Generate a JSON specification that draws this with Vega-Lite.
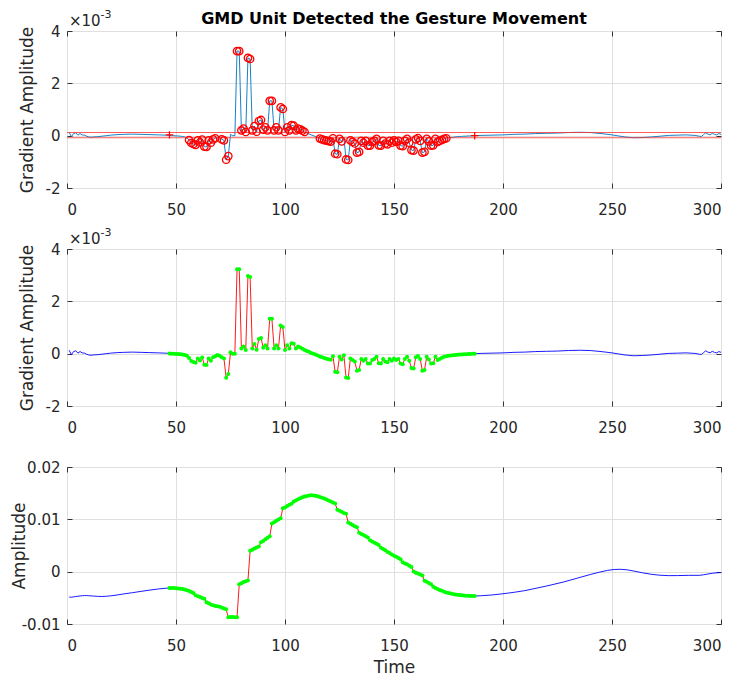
{
  "$schema": "https://vega.github.io/schema/vega-lite/v6.json",
  "background": "white",
  "padding": {"left": 9, "top": 8, "right": 0, "bottom": 0},
  "bounds": "flush",
  "spacing": 61,
  "config": {
    "font": "DejaVu Sans",
    "view": {"stroke": "#555555", "strokeWidth": 1},
    "axis": {
      "labelFont": "DejaVu Sans", "labelFontSize": 15, "labelColor": "#262626",
      "titleFont": "DejaVu Sans", "titleFontSize": 17, "titleFontWeight": "normal", "titleColor": "#262626",
      "gridColor": "#DFDFDF", "gridWidth": 1, "domain": false,
      "tickColor": "#333333", "tickSize": -5, "tickWidth": 1, "minExtent": 0
    },
    "axisX": {"labelPadding": 19},
    "axisY": {"labelPadding": 12}
  },
  "datasets": {
    "thr": [{"th": 0.12}, {"th": -0.08}],
    "bnd": [{"t": 47, "g": 0.03}, {"t": 187, "g": 0.0}],
    "ttl": [{"text": "GMD Unit Detected the Gesture Movement"}],
    "exp": [{"base": "×10", "pow": "-3"}],
    "grad": [
      {"t":1,"g":0.13,"s":"pre"},{"t":2,"g":-0.04,"s":"pre"},{"t":3,"g":0.08,"s":"pre"},{"t":4,"g":0.11,"s":"pre"},{"t":5,"g":0.02,"s":"pre"},{"t":6,"g":0.08,"s":"pre"},{"t":7,"g":0.03,"s":"pre"},{"t":8,"g":0.02,"s":"pre"},{"t":9,"g":-0.02,"s":"pre"},{"t":10,"g":-0.05,"s":"pre"},{"t":11,"g":-0.06,"s":"pre"},{"t":12,"g":-0.05,"s":"pre"},{"t":14,"g":-0.04,"s":"pre"},{"t":16,"g":-0.02,"s":"pre"},{"t":18,"g":0.0,"s":"pre"},{"t":20,"g":0.02,"s":"pre"},{"t":23,"g":0.04,"s":"pre"},{"t":26,"g":0.05,"s":"pre"},{"t":30,"g":0.06,"s":"pre"},{"t":34,"g":0.05,"s":"pre"},{"t":38,"g":0.04,"s":"pre"},{"t":42,"g":0.03,"s":"pre"},{"t":45,"g":0.02,"s":"pre"},{"t":47,"g":0.01,"s":"pre"},
      {"t":47,"g":0.01,"s":"in"},{"t":48,"g":0.0,"s":"in"},{"t":49,"g":0.0,"s":"in"},{"t":50,"g":-0.01,"s":"in"},{"t":51,"g":-0.01,"s":"in"},{"t":52,"g":-0.02,"s":"in"},{"t":53,"g":-0.03,"s":"in"},{"t":54,"g":-0.05,"s":"in"},{"t":55,"g":-0.08,"s":"in"},{"t":56,"g":-0.17,"s":"in"},
      {"t":57,"g":-0.28,"s":"in"},{"t":58,"g":-0.32,"s":"in"},{"t":59,"g":-0.35,"s":"in"},{"t":60,"g":-0.18,"s":"in"},{"t":61,"g":-0.26,"s":"in"},{"t":62,"g":-0.15,"s":"in"},{"t":63,"g":-0.42,"s":"in"},{"t":64,"g":-0.43,"s":"in"},{"t":65,"g":-0.18,"s":"in"},{"t":66,"g":-0.27,"s":"in"},
      {"t":67,"g":-0.14,"s":"in"},{"t":68,"g":-0.10,"s":"in"},{"t":69,"g":-0.05,"s":"in"},{"t":70,"g":-0.08,"s":"in"},{"t":71,"g":-0.14,"s":"in"},{"t":72,"g":-0.18,"s":"in"},{"t":73,"g":-0.92,"s":"in"},{"t":74,"g":-0.78,"s":"in"},{"t":75,"g":0.05,"s":"in"},{"t":76,"g":0.0,"s":"in"},
      {"t":77,"g":0.0,"s":"in"},{"t":78,"g":3.23,"s":"in"},{"t":79,"g":3.23,"s":"in"},{"t":80,"g":0.20,"s":"in"},{"t":81,"g":0.27,"s":"in"},{"t":82,"g":0.14,"s":"in"},{"t":83,"g":2.97,"s":"in"},{"t":84,"g":2.93,"s":"in"},{"t":85,"g":0.20,"s":"in"},{"t":86,"g":0.37,"s":"in"},
      {"t":87,"g":0.15,"s":"in"},{"t":88,"g":0.56,"s":"in"},{"t":89,"g":0.60,"s":"in"},{"t":90,"g":0.23,"s":"in"},{"t":91,"g":0.32,"s":"in"},{"t":92,"g":0.20,"s":"in"},{"t":93,"g":1.33,"s":"in"},{"t":94,"g":1.33,"s":"in"},{"t":95,"g":0.20,"s":"in"},{"t":96,"g":0.32,"s":"in"},
      {"t":97,"g":0.20,"s":"in"},{"t":98,"g":1.08,"s":"in"},{"t":99,"g":1.02,"s":"in"},{"t":100,"g":0.14,"s":"in"},{"t":101,"g":0.32,"s":"in"},{"t":102,"g":0.20,"s":"in"},{"t":103,"g":0.40,"s":"in"},{"t":104,"g":0.38,"s":"in"},{"t":105,"g":0.20,"s":"in"},{"t":106,"g":0.27,"s":"in"},
      {"t":107,"g":0.24,"s":"in"},{"t":108,"g":0.19,"s":"in"},{"t":109,"g":0.14,"s":"in"},{"t":110,"g":0.10,"s":"in"},{"t":111,"g":0.07,"s":"in"},{"t":112,"g":0.03,"s":"in"},{"t":113,"g":0.0,"s":"in"},{"t":114,"g":-0.03,"s":"in"},{"t":115,"g":-0.07,"s":"in"},{"t":116,"g":-0.11,"s":"in"},
      {"t":117,"g":-0.14,"s":"in"},{"t":118,"g":-0.17,"s":"in"},{"t":119,"g":-0.19,"s":"in"},{"t":120,"g":-0.21,"s":"in"},{"t":121,"g":-0.23,"s":"in"},{"t":122,"g":-0.10,"s":"in"},{"t":123,"g":-0.69,"s":"in"},{"t":124,"g":-0.71,"s":"in"},{"t":125,"g":-0.12,"s":"in"},{"t":126,"g":-0.22,"s":"in"},
      {"t":127,"g":-0.06,"s":"in"},{"t":128,"g":-0.91,"s":"in"},{"t":129,"g":-0.93,"s":"in"},{"t":130,"g":-0.18,"s":"in"},{"t":131,"g":-0.24,"s":"in"},{"t":132,"g":-0.30,"s":"in"},{"t":133,"g":-0.65,"s":"in"},{"t":134,"g":-0.62,"s":"in"},{"t":135,"g":-0.20,"s":"in"},{"t":136,"g":-0.27,"s":"in"},
      {"t":137,"g":-0.20,"s":"in"},{"t":138,"g":-0.38,"s":"in"},{"t":139,"g":-0.38,"s":"in"},{"t":140,"g":-0.24,"s":"in"},{"t":141,"g":-0.20,"s":"in"},{"t":142,"g":-0.12,"s":"in"},{"t":143,"g":-0.37,"s":"in"},{"t":144,"g":-0.38,"s":"in"},{"t":145,"g":-0.20,"s":"in"},{"t":146,"g":-0.30,"s":"in"},
      {"t":147,"g":-0.33,"s":"in"},{"t":148,"g":-0.20,"s":"in"},{"t":149,"g":-0.27,"s":"in"},{"t":150,"g":-0.18,"s":"in"},{"t":151,"g":-0.24,"s":"in"},{"t":152,"g":-0.20,"s":"in"},{"t":153,"g":-0.38,"s":"in"},{"t":154,"g":-0.40,"s":"in"},{"t":155,"g":-0.20,"s":"in"},{"t":156,"g":-0.12,"s":"in"},
      {"t":157,"g":-0.27,"s":"in"},{"t":158,"g":-0.55,"s":"in"},{"t":159,"g":-0.57,"s":"in"},{"t":160,"g":-0.14,"s":"in"},{"t":161,"g":-0.09,"s":"in"},{"t":162,"g":-0.20,"s":"in"},{"t":163,"g":-0.65,"s":"in"},{"t":164,"g":-0.62,"s":"in"},{"t":165,"g":-0.12,"s":"in"},{"t":166,"g":-0.22,"s":"in"},
      {"t":167,"g":-0.38,"s":"in"},{"t":168,"g":-0.37,"s":"in"},{"t":169,"g":-0.12,"s":"in"},{"t":170,"g":-0.24,"s":"in"},{"t":171,"g":-0.20,"s":"in"},{"t":172,"g":-0.16,"s":"in"},{"t":173,"g":-0.12,"s":"in"},{"t":174,"g":-0.10,"s":"in"},{"t":175,"g":-0.08,"s":"in"},{"t":176,"g":-0.07,"s":"in"},
      {"t":177,"g":-0.06,"s":"in"},{"t":178,"g":-0.05,"s":"in"},{"t":179,"g":-0.04,"s":"in"},{"t":180,"g":-0.03,"s":"in"},{"t":181,"g":-0.03,"s":"in"},{"t":182,"g":-0.02,"s":"in"},{"t":183,"g":-0.02,"s":"in"},{"t":184,"g":-0.01,"s":"in"},{"t":185,"g":-0.01,"s":"in"},{"t":186,"g":0.0,"s":"in"},{"t":187,"g":0.0,"s":"in"},
      {"t":187,"g":0.0,"s":"post"},{"t":190,"g":0.01,"s":"post"},{"t":195,"g":0.02,"s":"post"},{"t":200,"g":0.03,"s":"post"},{"t":205,"g":0.05,"s":"post"},{"t":210,"g":0.06,"s":"post"},{"t":215,"g":0.08,"s":"post"},{"t":220,"g":0.09,"s":"post"},{"t":225,"g":0.10,"s":"post"},{"t":230,"g":0.12,"s":"post"},
      {"t":235,"g":0.13,"s":"post"},{"t":240,"g":0.12,"s":"post"},{"t":245,"g":0.08,"s":"post"},{"t":250,"g":0.03,"s":"post"},{"t":253,"g":-0.01,"s":"post"},{"t":256,"g":-0.05,"s":"post"},{"t":260,"g":-0.08,"s":"post"},{"t":264,"g":-0.07,"s":"post"},{"t":268,"g":-0.05,"s":"post"},{"t":272,"g":-0.02,"s":"post"},
      {"t":276,"g":0.01,"s":"post"},{"t":280,"g":0.02,"s":"post"},{"t":284,"g":0.03,"s":"post"},{"t":288,"g":0.01,"s":"post"},{"t":290,"g":-0.02,"s":"post"},{"t":291,"g":-0.03,"s":"post"},{"t":292,"g":0.04,"s":"post"},{"t":293,"g":0.11,"s":"post"},{"t":294,"g":0.06,"s":"post"},{"t":295,"g":0.03,"s":"post"},
      {"t":296,"g":0.09,"s":"post"},{"t":297,"g":0.05,"s":"post"},{"t":298,"g":0.03,"s":"post"},{"t":299,"g":0.08,"s":"post"},{"t":300,"g":0.05,"s":"post"}
    ],
    "amp": [
      {"t":1,"a":-0.00485,"s":"pre"},{"t":2,"a":-0.00488,"s":"pre"},{"t":3,"a":-0.00482,"s":"pre"},{"t":4,"a":-0.00476,"s":"pre"},{"t":5,"a":-0.00470,"s":"pre"},{"t":6,"a":-0.00464,"s":"pre"},{"t":7,"a":-0.00460,"s":"pre"},{"t":8,"a":-0.00457,"s":"pre"},{"t":9,"a":-0.00456,"s":"pre"},{"t":10,"a":-0.00460,"s":"pre"},
      {"t":12,"a":-0.00466,"s":"pre"},{"t":14,"a":-0.00472,"s":"pre"},{"t":16,"a":-0.00474,"s":"pre"},{"t":18,"a":-0.00470,"s":"pre"},{"t":20,"a":-0.00462,"s":"pre"},{"t":23,"a":-0.00446,"s":"pre"},{"t":26,"a":-0.00425,"s":"pre"},{"t":30,"a":-0.00402,"s":"pre"},{"t":34,"a":-0.00376,"s":"pre"},{"t":38,"a":-0.00352,"s":"pre"},
      {"t":42,"a":-0.00330,"s":"pre"},{"t":45,"a":-0.00318,"s":"pre"},{"t":47,"a":-0.00310,"s":"pre"},
      {"t":47,"a":-0.00310,"s":"in"},{"t":48,"a":-0.00312,"s":"in"},{"t":49,"a":-0.00314,"s":"in"},{"t":50,"a":-0.00317,"s":"in"},{"t":51,"a":-0.00321,"s":"in"},{"t":52,"a":-0.00326,"s":"in"},{"t":53,"a":-0.00333,"s":"in"},{"t":54,"a":-0.00342,"s":"in"},{"t":55,"a":-0.00353,"s":"in"},{"t":56,"a":-0.00368,"s":"in"},
      {"t":57,"a":-0.00388,"s":"in"},{"t":58,"a":-0.00410,"s":"in"},{"t":59,"a":-0.00452,"s":"in"},{"t":60,"a":-0.00468,"s":"in"},{"t":61,"a":-0.00486,"s":"in"},{"t":62,"a":-0.00502,"s":"in"},{"t":63,"a":-0.00518,"s":"in"},{"t":64,"a":-0.00586,"s":"in"},{"t":65,"a":-0.00605,"s":"in"},{"t":66,"a":-0.00626,"s":"in"},
      {"t":67,"a":-0.00642,"s":"in"},{"t":68,"a":-0.00655,"s":"in"},{"t":69,"a":-0.00663,"s":"in"},{"t":70,"a":-0.00672,"s":"in"},{"t":71,"a":-0.00685,"s":"in"},{"t":72,"a":-0.00702,"s":"in"},{"t":73,"a":-0.00720,"s":"in"},{"t":74,"a":-0.00870,"s":"in"},{"t":75,"a":-0.00868,"s":"in"},{"t":76,"a":-0.00868,"s":"in"},
      {"t":77,"a":-0.00869,"s":"in"},{"t":78,"a":-0.00870,"s":"in"},{"t":79,"a":-0.00240,"s":"in"},{"t":80,"a":-0.00222,"s":"in"},{"t":81,"a":-0.00198,"s":"in"},{"t":82,"a":-0.00182,"s":"in"},{"t":83,"a":-0.00170,"s":"in"},{"t":84,"a":0.00400,"s":"in"},{"t":85,"a":0.00418,"s":"in"},{"t":86,"a":0.00445,"s":"in"},
      {"t":87,"a":0.00462,"s":"in"},{"t":88,"a":0.00480,"s":"in"},{"t":89,"a":0.00560,"s":"in"},{"t":90,"a":0.00585,"s":"in"},{"t":91,"a":0.00618,"s":"in"},{"t":92,"a":0.00648,"s":"in"},{"t":93,"a":0.00675,"s":"in"},{"t":94,"a":0.00920,"s":"in"},{"t":95,"a":0.00942,"s":"in"},{"t":96,"a":0.00972,"s":"in"},
      {"t":97,"a":0.00995,"s":"in"},{"t":98,"a":0.01020,"s":"in"},{"t":99,"a":0.01210,"s":"in"},{"t":100,"a":0.01228,"s":"in"},{"t":101,"a":0.01255,"s":"in"},{"t":102,"a":0.01278,"s":"in"},{"t":103,"a":0.01300,"s":"in"},{"t":104,"a":0.01340,"s":"in"},{"t":105,"a":0.01362,"s":"in"},{"t":106,"a":0.01385,"s":"in"},
      {"t":107,"a":0.01405,"s":"in"},{"t":108,"a":0.01422,"s":"in"},{"t":109,"a":0.01436,"s":"in"},{"t":110,"a":0.01448,"s":"in"},{"t":111,"a":0.01455,"s":"in"},{"t":112,"a":0.01458,"s":"in"},{"t":113,"a":0.01456,"s":"in"},{"t":114,"a":0.01450,"s":"in"},{"t":115,"a":0.01440,"s":"in"},{"t":116,"a":0.01428,"s":"in"},
      {"t":117,"a":0.01414,"s":"in"},{"t":118,"a":0.01398,"s":"in"},{"t":119,"a":0.01380,"s":"in"},{"t":120,"a":0.01360,"s":"in"},{"t":121,"a":0.01340,"s":"in"},{"t":122,"a":0.01320,"s":"in"},{"t":123,"a":0.01302,"s":"in"},{"t":124,"a":0.01182,"s":"in"},{"t":125,"a":0.01162,"s":"in"},{"t":126,"a":0.01144,"s":"in"},
      {"t":127,"a":0.01122,"s":"in"},{"t":128,"a":0.01108,"s":"in"},{"t":129,"a":0.00938,"s":"in"},{"t":130,"a":0.00915,"s":"in"},{"t":131,"a":0.00894,"s":"in"},{"t":132,"a":0.00870,"s":"in"},{"t":133,"a":0.00850,"s":"in"},{"t":134,"a":0.00745,"s":"in"},{"t":135,"a":0.00722,"s":"in"},{"t":136,"a":0.00700,"s":"in"},
      {"t":137,"a":0.00675,"s":"in"},{"t":138,"a":0.00652,"s":"in"},{"t":139,"a":0.00598,"s":"in"},{"t":140,"a":0.00575,"s":"in"},{"t":141,"a":0.00552,"s":"in"},{"t":142,"a":0.00532,"s":"in"},{"t":143,"a":0.00510,"s":"in"},{"t":144,"a":0.00455,"s":"in"},{"t":145,"a":0.00433,"s":"in"},{"t":146,"a":0.00408,"s":"in"},
      {"t":147,"a":0.00378,"s":"in"},{"t":148,"a":0.00355,"s":"in"},{"t":149,"a":0.00330,"s":"in"},{"t":150,"a":0.00306,"s":"in"},{"t":151,"a":0.00285,"s":"in"},{"t":152,"a":0.00262,"s":"in"},{"t":153,"a":0.00238,"s":"in"},{"t":154,"a":0.00182,"s":"in"},{"t":155,"a":0.00158,"s":"in"},{"t":156,"a":0.00140,"s":"in"},
      {"t":157,"a":0.00115,"s":"in"},{"t":158,"a":0.00090,"s":"in"},{"t":159,"a":0.00005,"s":"in"},{"t":160,"a":-0.00020,"s":"in"},{"t":161,"a":-0.00035,"s":"in"},{"t":162,"a":-0.00055,"s":"in"},{"t":163,"a":-0.00075,"s":"in"},{"t":164,"a":-0.00175,"s":"in"},{"t":165,"a":-0.00195,"s":"in"},{"t":166,"a":-0.00218,"s":"in"},
      {"t":167,"a":-0.00240,"s":"in"},{"t":168,"a":-0.00290,"s":"in"},{"t":169,"a":-0.00310,"s":"in"},{"t":170,"a":-0.00330,"s":"in"},{"t":171,"a":-0.00350,"s":"in"},{"t":172,"a":-0.00367,"s":"in"},{"t":173,"a":-0.00382,"s":"in"},{"t":174,"a":-0.00396,"s":"in"},{"t":175,"a":-0.00408,"s":"in"},{"t":176,"a":-0.00418,"s":"in"},
      {"t":177,"a":-0.00427,"s":"in"},{"t":178,"a":-0.00435,"s":"in"},{"t":179,"a":-0.00442,"s":"in"},{"t":180,"a":-0.00448,"s":"in"},{"t":181,"a":-0.00453,"s":"in"},{"t":182,"a":-0.00457,"s":"in"},{"t":183,"a":-0.00460,"s":"in"},{"t":184,"a":-0.00462,"s":"in"},{"t":185,"a":-0.00464,"s":"in"},{"t":186,"a":-0.00465,"s":"in"},{"t":187,"a":-0.00466,"s":"in"},
      {"t":187,"a":-0.00466,"s":"post"},{"t":190,"a":-0.00460,"s":"post"},{"t":195,"a":-0.00445,"s":"post"},{"t":200,"a":-0.00422,"s":"post"},{"t":205,"a":-0.00395,"s":"post"},{"t":210,"a":-0.00362,"s":"post"},{"t":216,"a":-0.00310,"s":"post"},{"t":222,"a":-0.00255,"s":"post"},{"t":228,"a":-0.00195,"s":"post"},{"t":234,"a":-0.00125,"s":"post"},
      {"t":240,"a":-0.00055,"s":"post"},{"t":244,"a":-0.00012,"s":"post"},{"t":248,"a":0.00025,"s":"post"},{"t":251,"a":0.00042,"s":"post"},{"t":254,"a":0.00045,"s":"post"},{"t":257,"a":0.00035,"s":"post"},{"t":260,"a":0.00012,"s":"post"},{"t":264,"a":-0.00022,"s":"post"},{"t":268,"a":-0.00050,"s":"post"},{"t":272,"a":-0.00068,"s":"post"},
      {"t":276,"a":-0.00076,"s":"post"},{"t":280,"a":-0.00075,"s":"post"},{"t":285,"a":-0.00070,"s":"post"},{"t":290,"a":-0.00070,"s":"post"},{"t":292,"a":-0.00060,"s":"post"},{"t":294,"a":-0.00045,"s":"post"},{"t":296,"a":-0.00030,"s":"post"},{"t":298,"a":-0.00022,"s":"post"},{"t":300,"a":-0.00018,"s":"post"}
    ]
  },
  "vconcat": [
    {
      "width": 654, "height": 157,
      "resolve": {"axis": {"x": "independent", "y": "independent"}},
      "layer": [
        {
          "data": {"name": "grad"},
          "mark": {"type": "line", "color": "#0072BD", "strokeWidth": 0.9},
          "encoding": {
            "x": {"field": "t", "type": "quantitative", "scale": {"domain": [0, 300], "nice": false}, "axis": {"values": [0, 50, 100, 150, 200, 250, 300], "title": null}},
            "y": {"field": "g", "type": "quantitative", "scale": {"domain": [-2, 4], "nice": false}, "axis": {"values": [-2, 0, 2, 4], "title": "Gradient Amplitude", "titleX": -35, "titleBaseline": "alphabetic", "labelExpr": "datum.value < 0 ? '-' + format(-datum.value, '~g') : format(datum.value, '~g')"}}
          }
        },
        {
          "data": {"name": "thr"},
          "mark": {"type": "rule", "color": "#FF3030", "strokeWidth": 0.8},
          "encoding": {"y": {"field": "th", "type": "quantitative", "axis": null}}
        },
        {
          "data": {"name": "grad"},
          "transform": [{"filter": "datum.s == 'in' && (datum.g > 0.12 || datum.g < -0.08)"}],
          "mark": {"type": "point", "shape": "circle", "filled": false, "color": "#FF0000", "size": 55, "strokeWidth": 1.3, "opacity": 1},
          "encoding": {
            "x": {"field": "t", "type": "quantitative", "axis": {"orient": "top", "values": [0, 50, 100, 150, 200, 250, 300], "labels": false, "grid": false, "title": null}},
            "y": {"field": "g", "type": "quantitative", "axis": {"orient": "right", "values": [-2, 0, 2, 4], "labels": false, "grid": false, "title": null}}
          }
        },
        {
          "data": {"name": "bnd"},
          "mark": {"type": "point", "shape": "M-1,0H1M0,-1V1", "filled": false, "color": "#FF0000", "size": 56, "strokeWidth": 1.2, "opacity": 1},
          "encoding": {
            "x": {"field": "t", "type": "quantitative", "axis": null},
            "y": {"field": "g", "type": "quantitative", "axis": null}
          }
        },
        {
          "data": {"name": "ttl"},
          "mark": {"type": "text", "align": "center", "baseline": "alphabetic", "dy": -7, "fontSize": 16, "fontWeight": "bold", "color": "#000000", "font": "DejaVu Sans"},
          "encoding": {"x": {"datum": 150, "type": "quantitative", "axis": null}, "y": {"datum": 4, "type": "quantitative", "axis": null}, "text": {"field": "text"}}
        },
        {
          "data": {"name": "exp"},
          "mark": {"type": "text", "align": "left", "baseline": "alphabetic", "dx": 2, "dy": -4.7, "fontSize": 15, "color": "#262626", "font": "DejaVu Sans"},
          "encoding": {"x": {"datum": 0, "type": "quantitative", "axis": null}, "y": {"datum": 4, "type": "quantitative", "axis": null}, "text": {"field": "base"}}
        },
        {
          "data": {"name": "exp"},
          "mark": {"type": "text", "align": "left", "baseline": "alphabetic", "dx": 33.5, "dy": -13.5, "fontSize": 11, "color": "#262626", "font": "DejaVu Sans"},
          "encoding": {"x": {"datum": 0, "type": "quantitative", "axis": null}, "y": {"datum": 4, "type": "quantitative", "axis": null}, "text": {"field": "pow"}}
        }
      ]
    },
    {
      "width": 654, "height": 157,
      "resolve": {"axis": {"x": "independent", "y": "independent"}},
      "layer": [
        {
          "data": {"name": "grad"},
          "mark": {"type": "line", "strokeWidth": 0.9},
          "encoding": {
            "x": {"field": "t", "type": "quantitative", "scale": {"domain": [0, 300], "nice": false}, "axis": {"values": [0, 50, 100, 150, 200, 250, 300], "title": null}},
            "y": {"field": "g", "type": "quantitative", "scale": {"domain": [-2, 4], "nice": false}, "axis": {"values": [-2, 0, 2, 4], "title": "Gradient Amplitude", "titleX": -35, "titleBaseline": "alphabetic", "labelExpr": "datum.value < 0 ? '-' + format(-datum.value, '~g') : format(datum.value, '~g')"}},
            "color": {"field": "s", "type": "nominal", "scale": {"domain": ["pre", "in", "post"], "range": ["#0000FF", "#FF0000", "#0000FF"]}, "legend": null}
          }
        },
        {
          "data": {"name": "grad"},
          "transform": [{"filter": "datum.s == 'in'"}],
          "mark": {"type": "point", "shape": "circle", "filled": true, "color": "#00FF00", "size": 16, "opacity": 1},
          "encoding": {
            "x": {"field": "t", "type": "quantitative", "axis": {"orient": "top", "values": [0, 50, 100, 150, 200, 250, 300], "labels": false, "grid": false, "title": null}},
            "y": {"field": "g", "type": "quantitative", "axis": {"orient": "right", "values": [-2, 0, 2, 4], "labels": false, "grid": false, "title": null}}
          }
        },
        {
          "data": {"name": "exp"},
          "mark": {"type": "text", "align": "left", "baseline": "alphabetic", "dx": 2, "dy": -4.7, "fontSize": 15, "color": "#262626", "font": "DejaVu Sans"},
          "encoding": {"x": {"datum": 0, "type": "quantitative", "axis": null}, "y": {"datum": 4, "type": "quantitative", "axis": null}, "text": {"field": "base"}}
        },
        {
          "data": {"name": "exp"},
          "mark": {"type": "text", "align": "left", "baseline": "alphabetic", "dx": 33.5, "dy": -13.5, "fontSize": 11, "color": "#262626", "font": "DejaVu Sans"},
          "encoding": {"x": {"datum": 0, "type": "quantitative", "axis": null}, "y": {"datum": 4, "type": "quantitative", "axis": null}, "text": {"field": "pow"}}
        }
      ]
    },
    {
      "width": 654, "height": 157,
      "resolve": {"axis": {"x": "independent", "y": "independent"}},
      "layer": [
        {
          "data": {"name": "amp"},
          "mark": {"type": "line", "strokeWidth": 0.9},
          "encoding": {
            "x": {"field": "t", "type": "quantitative", "scale": {"domain": [0, 300], "nice": false}, "axis": {"values": [0, 50, 100, 150, 200, 250, 300], "title": "Time", "titleY": 48, "titleBaseline": "alphabetic"}},
            "y": {"field": "a", "type": "quantitative", "scale": {"domain": [-0.01, 0.02], "nice": false}, "axis": {"values": [-0.01, 0, 0.01, 0.02], "title": "Amplitude", "titleX": -43, "titleBaseline": "alphabetic", "labelExpr": "datum.value < 0 ? '-' + format(-datum.value, '.2~f') : format(datum.value, '.2~f')"}},
            "color": {"field": "s", "type": "nominal", "scale": {"domain": ["pre", "in", "post"], "range": ["#0000FF", "#FF0000", "#0000FF"]}, "legend": null}
          }
        },
        {
          "data": {"name": "amp"},
          "transform": [{"filter": "datum.s == 'in'"}],
          "mark": {"type": "point", "shape": "circle", "filled": true, "color": "#00FF00", "size": 16, "opacity": 1},
          "encoding": {
            "x": {"field": "t", "type": "quantitative", "axis": {"orient": "top", "values": [0, 50, 100, 150, 200, 250, 300], "labels": false, "grid": false, "title": null}},
            "y": {"field": "a", "type": "quantitative", "axis": {"orient": "right", "values": [-0.01, 0, 0.01, 0.02], "labels": false, "grid": false, "title": null}}
          }
        }
      ]
    }
  ]
}
